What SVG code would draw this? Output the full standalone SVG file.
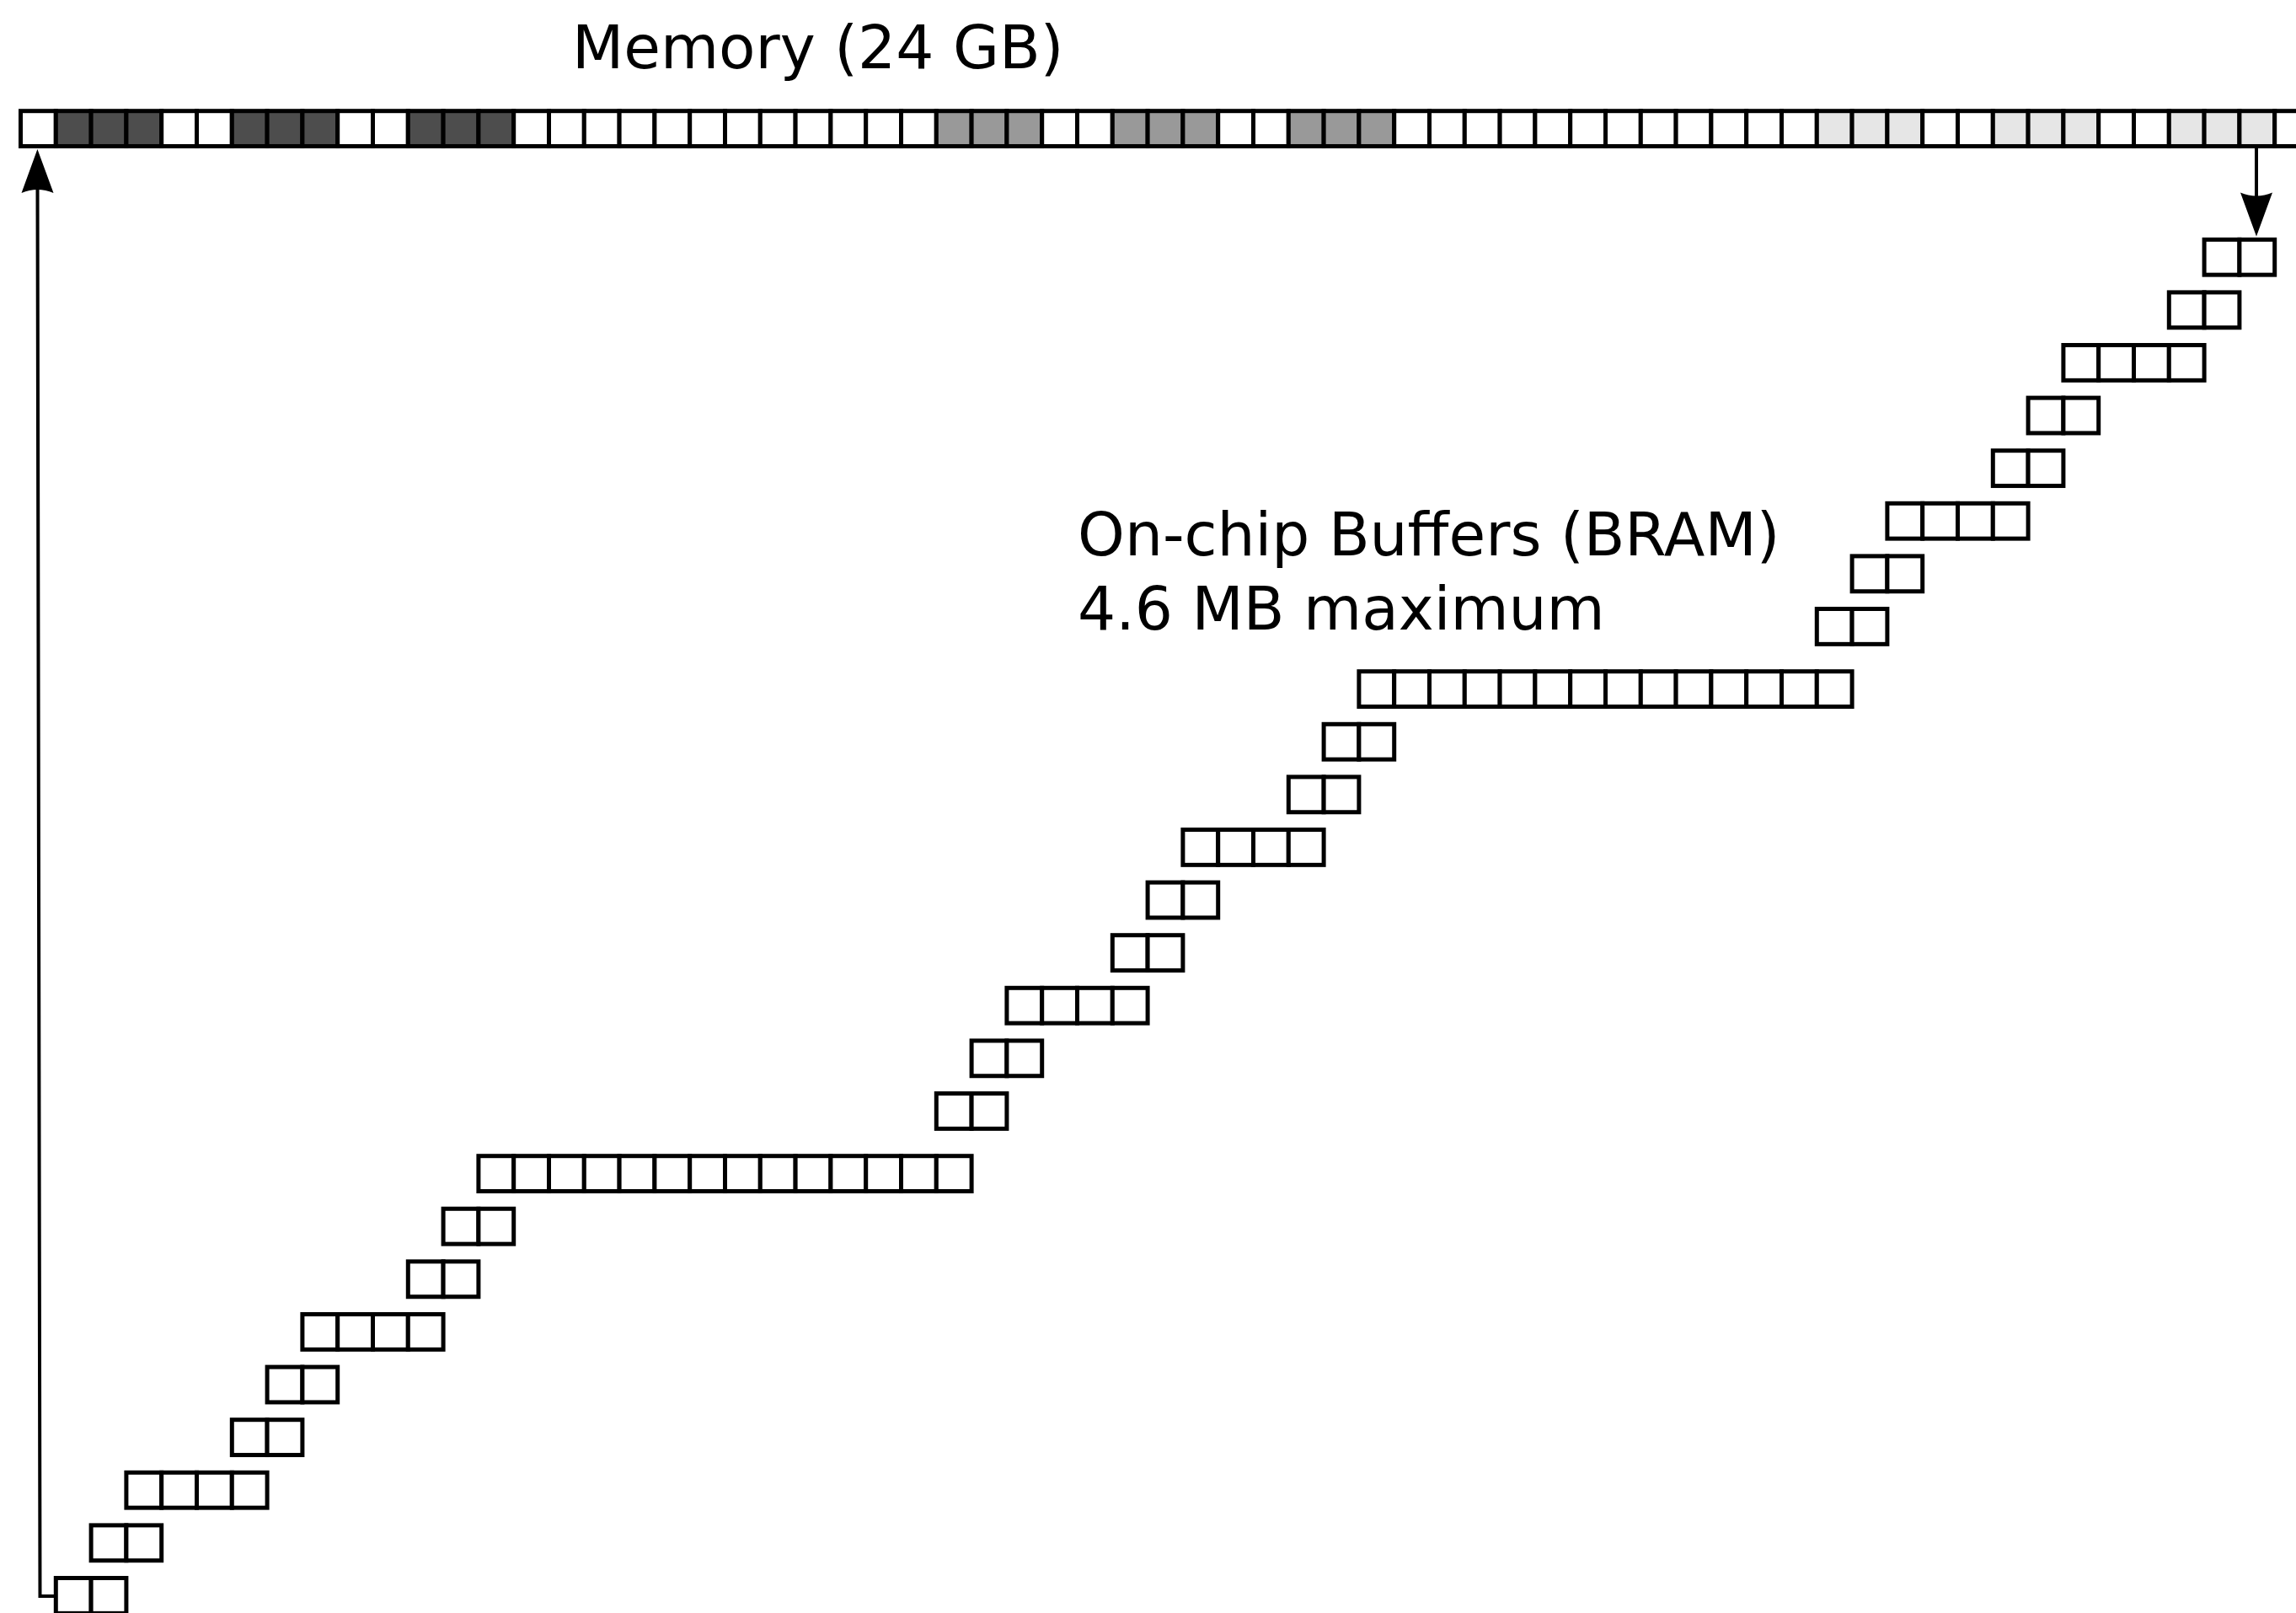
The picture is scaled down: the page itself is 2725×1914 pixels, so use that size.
<svg xmlns="http://www.w3.org/2000/svg" width="2725" height="1914" viewBox="0 0 2725 1914">
<defs>
<style>
.c{fill:#ffffff;stroke:#000000;stroke-width:5}
.d{fill:#4d4d4d;stroke:#000000;stroke-width:5}
.m{fill:#999999;stroke:#000000;stroke-width:5}
.l{fill:#e6e6e6;stroke:#000000;stroke-width:5}
.t{font-family:"DejaVu Sans","Liberation Sans",sans-serif;font-size:71px;fill:#000000}
.cn{fill:none;stroke:#000000;stroke-width:4}
</style>
<marker id="ah" markerUnits="userSpaceOnUse" orient="auto" markerWidth="60" markerHeight="40" refX="0" refY="0" viewBox="-8 -20 56 40" overflow="visible">
<path d="M46,0 L-6,-19 Q2,0 -6,19 Z" fill="#000000"/>
</marker>
<rect id="cell" width="41.8" height="41.84" class="c"/>
</defs>
<rect width="2725" height="1914" fill="#ffffff"/>

<g id="memory-label"><text class="t" x="679" y="81">Memory (24 GB)</text></g>
<g id="buffer-label"><text class="t" x="1279" y="659">On-chip Buffers (BRAM)</text><text class="t" x="1279" y="747">4.6 MB maximum</text></g>

<g id="memory" transform="translate(24.5,131.7)">
<rect class="c" x="0" y="0" width="41.8" height="41.84"/>
<rect class="d" x="41.8" y="0" width="41.8" height="41.84"/>
<rect class="d" x="83.6" y="0" width="41.8" height="41.84"/>
<rect class="d" x="125.4" y="0" width="41.8" height="41.84"/>
<rect class="c" x="167.2" y="0" width="41.8" height="41.84"/>
<rect class="c" x="209" y="0" width="41.8" height="41.84"/>
<rect class="d" x="250.8" y="0" width="41.8" height="41.84"/>
<rect class="d" x="292.6" y="0" width="41.8" height="41.84"/>
<rect class="d" x="334.4" y="0" width="41.8" height="41.84"/>
<rect class="c" x="376.2" y="0" width="41.8" height="41.84"/>
<rect class="c" x="418" y="0" width="41.8" height="41.84"/>
<rect class="d" x="459.8" y="0" width="41.8" height="41.84"/>
<rect class="d" x="501.6" y="0" width="41.8" height="41.84"/>
<rect class="d" x="543.4" y="0" width="41.8" height="41.84"/>
<rect class="c" x="585.2" y="0" width="41.8" height="41.84"/>
<rect class="c" x="627" y="0" width="41.8" height="41.84"/>
<rect class="c" x="668.8" y="0" width="41.8" height="41.84"/>
<rect class="c" x="710.6" y="0" width="41.8" height="41.84"/>
<rect class="c" x="752.4" y="0" width="41.8" height="41.84"/>
<rect class="c" x="794.2" y="0" width="41.8" height="41.84"/>
<rect class="c" x="836" y="0" width="41.8" height="41.84"/>
<rect class="c" x="877.8" y="0" width="41.8" height="41.84"/>
<rect class="c" x="919.6" y="0" width="41.8" height="41.84"/>
<rect class="c" x="961.4" y="0" width="41.8" height="41.84"/>
<rect class="c" x="1003.2" y="0" width="41.8" height="41.84"/>
<rect class="c" x="1045" y="0" width="41.8" height="41.84"/>
<rect class="m" x="1086.8" y="0" width="41.8" height="41.84"/>
<rect class="m" x="1128.6" y="0" width="41.8" height="41.84"/>
<rect class="m" x="1170.4" y="0" width="41.8" height="41.84"/>
<rect class="c" x="1212.2" y="0" width="41.8" height="41.84"/>
<rect class="c" x="1254" y="0" width="41.8" height="41.84"/>
<rect class="m" x="1295.8" y="0" width="41.8" height="41.84"/>
<rect class="m" x="1337.6" y="0" width="41.8" height="41.84"/>
<rect class="m" x="1379.4" y="0" width="41.8" height="41.84"/>
<rect class="c" x="1421.2" y="0" width="41.8" height="41.84"/>
<rect class="c" x="1463" y="0" width="41.8" height="41.84"/>
<rect class="m" x="1504.8" y="0" width="41.8" height="41.84"/>
<rect class="m" x="1546.6" y="0" width="41.8" height="41.84"/>
<rect class="m" x="1588.4" y="0" width="41.8" height="41.84"/>
<rect class="c" x="1630.2" y="0" width="41.8" height="41.84"/>
<rect class="c" x="1672" y="0" width="41.8" height="41.84"/>
<rect class="c" x="1713.8" y="0" width="41.8" height="41.84"/>
<rect class="c" x="1755.6" y="0" width="41.8" height="41.84"/>
<rect class="c" x="1797.4" y="0" width="41.8" height="41.84"/>
<rect class="c" x="1839.2" y="0" width="41.8" height="41.84"/>
<rect class="c" x="1881" y="0" width="41.8" height="41.84"/>
<rect class="c" x="1922.8" y="0" width="41.8" height="41.84"/>
<rect class="c" x="1964.6" y="0" width="41.8" height="41.84"/>
<rect class="c" x="2006.4" y="0" width="41.8" height="41.84"/>
<rect class="c" x="2048.2" y="0" width="41.8" height="41.84"/>
<rect class="c" x="2090" y="0" width="41.8" height="41.84"/>
<rect class="l" x="2131.8" y="0" width="41.8" height="41.84"/>
<rect class="l" x="2173.6" y="0" width="41.8" height="41.84"/>
<rect class="l" x="2215.4" y="0" width="41.8" height="41.84"/>
<rect class="c" x="2257.2" y="0" width="41.8" height="41.84"/>
<rect class="c" x="2299" y="0" width="41.8" height="41.84"/>
<rect class="l" x="2340.8" y="0" width="41.8" height="41.84"/>
<rect class="l" x="2382.6" y="0" width="41.8" height="41.84"/>
<rect class="l" x="2424.4" y="0" width="41.8" height="41.84"/>
<rect class="c" x="2466.2" y="0" width="41.8" height="41.84"/>
<rect class="c" x="2508" y="0" width="41.8" height="41.84"/>
<rect class="l" x="2549.8" y="0" width="41.8" height="41.84"/>
<rect class="l" x="2591.6" y="0" width="41.8" height="41.84"/>
<rect class="l" x="2633.4" y="0" width="41.8" height="41.84"/>
<rect class="c" x="2675.2" y="0" width="41.8" height="41.84"/>
</g>

<g id="buf01" transform="translate(66.3,1872.5)"><use href="#cell"/><use href="#cell" x="41.8"/></g>
<g id="buf02" transform="translate(108.1,1809.9)"><use href="#cell"/><use href="#cell" x="41.8"/></g>
<g id="buf03" transform="translate(149.9,1747.3)"><use href="#cell"/><use href="#cell" x="41.8"/><use href="#cell" x="83.6"/><use href="#cell" x="125.4"/></g>
<g id="buf04" transform="translate(275.3,1684.7)"><use href="#cell"/><use href="#cell" x="41.8"/></g>
<g id="buf05" transform="translate(317.1,1622.1)"><use href="#cell"/><use href="#cell" x="41.8"/></g>
<g id="buf06" transform="translate(358.9,1559.5)"><use href="#cell"/><use href="#cell" x="41.8"/><use href="#cell" x="83.6"/><use href="#cell" x="125.4"/></g>
<g id="buf07" transform="translate(484.3,1496.9)"><use href="#cell"/><use href="#cell" x="41.8"/></g>
<g id="buf08" transform="translate(526.1,1434.3)"><use href="#cell"/><use href="#cell" x="41.8"/></g>
<g id="buf09" transform="translate(567.9,1371.7)"><use href="#cell"/><use href="#cell" x="41.8"/><use href="#cell" x="83.6"/><use href="#cell" x="125.4"/><use href="#cell" x="167.2"/><use href="#cell" x="209"/><use href="#cell" x="250.8"/><use href="#cell" x="292.6"/><use href="#cell" x="334.4"/><use href="#cell" x="376.2"/><use href="#cell" x="418"/><use href="#cell" x="459.8"/><use href="#cell" x="501.6"/><use href="#cell" x="543.4"/></g>
<g id="buf10" transform="translate(1111.3,1297.5)"><use href="#cell"/><use href="#cell" x="41.8"/></g>
<g id="buf11" transform="translate(1153.1,1234.9)"><use href="#cell"/><use href="#cell" x="41.8"/></g>
<g id="buf12" transform="translate(1194.9,1172.3)"><use href="#cell"/><use href="#cell" x="41.8"/><use href="#cell" x="83.6"/><use href="#cell" x="125.4"/></g>
<g id="buf13" transform="translate(1320.3,1109.7)"><use href="#cell"/><use href="#cell" x="41.8"/></g>
<g id="buf14" transform="translate(1362.1,1047.1)"><use href="#cell"/><use href="#cell" x="41.8"/></g>
<g id="buf15" transform="translate(1403.9,984.5)"><use href="#cell"/><use href="#cell" x="41.8"/><use href="#cell" x="83.6"/><use href="#cell" x="125.4"/></g>
<g id="buf16" transform="translate(1529.3,921.9)"><use href="#cell"/><use href="#cell" x="41.8"/></g>
<g id="buf17" transform="translate(1571.1,859.3)"><use href="#cell"/><use href="#cell" x="41.8"/></g>
<g id="buf18" transform="translate(1612.9,796.7)"><use href="#cell"/><use href="#cell" x="41.8"/><use href="#cell" x="83.6"/><use href="#cell" x="125.4"/><use href="#cell" x="167.2"/><use href="#cell" x="209"/><use href="#cell" x="250.8"/><use href="#cell" x="292.6"/><use href="#cell" x="334.4"/><use href="#cell" x="376.2"/><use href="#cell" x="418"/><use href="#cell" x="459.8"/><use href="#cell" x="501.6"/><use href="#cell" x="543.4"/></g>
<g id="buf19" transform="translate(2156.3,722.5)"><use href="#cell"/><use href="#cell" x="41.8"/></g>
<g id="buf20" transform="translate(2198.1,659.9)"><use href="#cell"/><use href="#cell" x="41.8"/></g>
<g id="buf21" transform="translate(2239.9,597.3)"><use href="#cell"/><use href="#cell" x="41.8"/><use href="#cell" x="83.6"/><use href="#cell" x="125.4"/></g>
<g id="buf22" transform="translate(2365.3,534.7)"><use href="#cell"/><use href="#cell" x="41.8"/></g>
<g id="buf23" transform="translate(2407.1,472.1)"><use href="#cell"/><use href="#cell" x="41.8"/></g>
<g id="buf24" transform="translate(2448.9,409.5)"><use href="#cell"/><use href="#cell" x="41.8"/><use href="#cell" x="83.6"/><use href="#cell" x="125.4"/></g>
<g id="buf25" transform="translate(2574.3,346.9)"><use href="#cell"/><use href="#cell" x="41.8"/></g>
<g id="buf26" transform="translate(2616.1,284.3)"><use href="#cell"/><use href="#cell" x="41.8"/></g>

<g id="connectors">
<path class="cn" d="M2678,176 L2678,234.5" marker-end="url(#ah)"/>
<path class="cn" d="M66.3,1894 L47.5,1894 L44.5,223" marker-end="url(#ah)"/>
</g>
</svg>
